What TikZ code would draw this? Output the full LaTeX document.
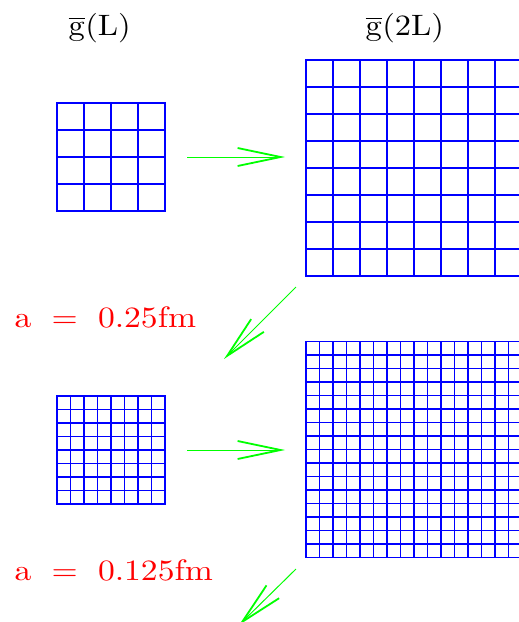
\documentclass[tikz,border=0pt]{standalone}
\usepackage{tikz}
\usetikzlibrary{arrows.meta,positioning,calc}
\definecolor{latblue}{RGB}{0,0,255}
\definecolor{flowgreen}{RGB}{0,255,0}
\definecolor{labelred}{RGB}{255,0,0}

\newcommand{\latticelines}[2]{%
  \pgfmathtruncatemacro\lastk{#2-1}
  \foreach \k in {1,...,\lastk} {
    \draw[latline] ($(#1.north west)!\k/#2!(#1.north east)$) -- ($(#1.south west)!\k/#2!(#1.south east)$);
    \draw[latline] ($(#1.north west)!\k/#2!(#1.south west)$) -- ($(#1.north east)!\k/#2!(#1.south east)$);
  }}

\begin{document}
\begin{tikzpicture}[x=1pt, y=-1pt,
    lattice/.style={rectangle, draw=latblue, line width=1.2pt, inner sep=0, outer sep=0},
    latline/.style={latblue, line width=1.2pt},
    flow/.style={flowgreen, line width=1pt, -{Straight Barb[length=43pt, width=18pt, line width=1.8pt]}},
    glabel/.style={scale=2.95, xscale=1.1, inner sep=0, anchor=base west},
    alabel/.style={text=labelred, scale=2.95, xscale=1.14, inner sep=0, anchor=base west}]

\useasboundingbox (0,0) rectangle (519,622);
\clip (0,0) rectangle (519,622);

\node[lattice, minimum size=108pt] (lat1) at (111,157) {};
\node[lattice, minimum size=216pt] (lat2) at (414,168) {};
\node[lattice, minimum size=108pt] (lat3) at (111,450) {};
\node[lattice, minimum size=216pt] (lat4) at (414,449.5) {};

\latticelines{lat1}{4}
\latticelines{lat2}{8}
\latticelines{lat3}{8}
\latticelines{lat4}{16}

\node[glabel] (gL) at (68,35) {$\overline{\mathrm{g}}$(L)};
\node[glabel] (g2L) at (365,35) {$\overline{\mathrm{g}}$(2L)};
\node[alabel] (a1) at (14,327) {a\hspace{0.6em}=\hspace{0.6em}0.25fm};
\node[alabel] (a2) at (14,580) {a\hspace{0.6em}=\hspace{0.6em}0.125fm};

\coordinate (tip4) at ([xshift=-67pt, yshift=-67.5pt]lat4.south west);

\draw[flow] ([xshift=22pt]lat1.east) -- ([xshift=-21pt]lat1.east -| lat2.west);
\draw[flow] ([xshift=-10pt, yshift=-11pt]lat2.south west) -- ([xshift=59pt, yshift=37pt]lat3.north east);
\draw[flow] ([xshift=22pt]lat3.east) -- ([xshift=-21pt]lat3.east -| lat4.west);
\draw[flow] ([xshift=-10pt, yshift=-11.5pt]lat4.south west) -- (tip4);

\end{tikzpicture}
\end{document}
